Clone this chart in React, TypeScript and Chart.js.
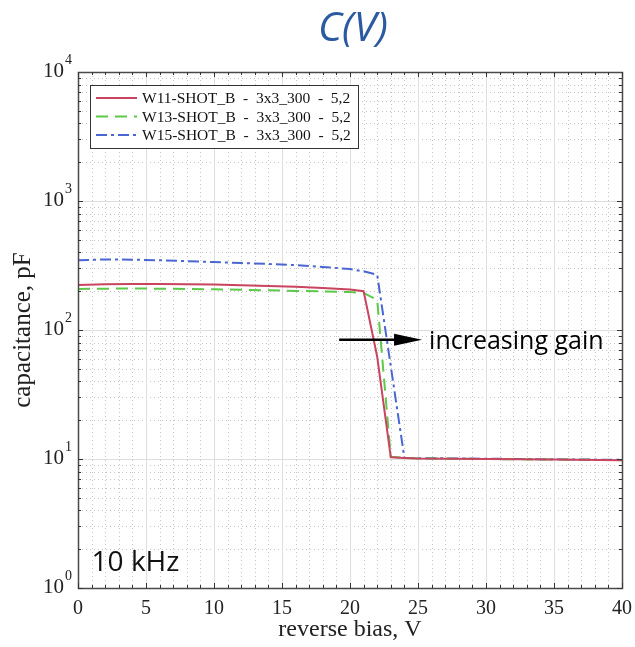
import React, { useEffect, useRef } from 'react';
import { Chart, registerables } from 'chart.js';

Chart.register(...registerables);

// ---------- data ----------
const voltsRed = [0, 2, 4, 6, 8, 10, 12, 14, 16, 18, 20, 21, 22, 23, 24, 25, 30, 35, 40];
const capRed = [223, 226, 227, 227, 226, 225, 222, 219, 216, 212, 206, 200, 62, 10.3, 10.2, 10.1, 10.0, 9.9, 9.8];
const voltsGreen = [0, 2, 4, 6, 8, 10, 12, 14, 16, 18, 20, 21, 22, 23, 24, 25, 30, 35, 40];
const capGreen = [208, 209, 210, 209, 208, 207, 205, 203, 201, 199, 197, 194, 171, 10.4, 10.2, 10.1, 10.0, 9.9, 9.8];
const voltsBlue = [0, 2, 4, 6, 8, 10, 12, 14, 16, 18, 20, 21, 22, 24, 25, 30, 35, 40];
const capBlue = [348, 352, 351, 347, 342, 336, 331, 325, 318, 308, 297, 285, 268, 10.2, 10.15, 10.05, 9.95, 9.85];

const seriesLabels = [
  'W11-SHOT_B  -  3x3_300  -  5,2',
  'W13-SHOT_B  -  3x3_300  -  5,2',
  'W15-SHOT_B  -  3x3_300  -  5,2',
];
const seriesColors = ['#c9445f', '#5cc94a', '#4a66d2'];
const seriesDashes: number[][] = [[], [12, 7], [11, 4, 3, 4]];

const xTickValues = [0, 5, 10, 15, 20, 25, 30, 35, 40];
const yDecades = [1, 10, 100, 1000, 10000];
const yExponents = ['0', '1', '2', '3', '4'];

const titleText = 'C(V)';
const xTitle = 'reverse bias, V';
const yTitle = 'capacitance, pF';
const annotationText = 'increasing gain';
const freqText = '10 kHz';
const arrowFrom = { x: 19.2, y: 84 };
const arrowTo = { x: 25.3, y: 84 };
const freqPos = { x: 1, y: 1.55 };

const SERIF = "'Liberation Serif', 'DejaVu Serif', serif";
const SANS = "'Open Sans', 'Noto Sans', sans-serif";

const toPoints = (xs: number[], ys: number[]) => xs.map((x, i) => ({ x, y: ys[i] }));

const overlayPlugin = {
  id: 'overlay',
  beforeDatasetsDraw(chart: any) {
    const { ctx, chartArea: a, scales } = chart;
    const xs = scales.x;
    const ys = scales.y;
    ctx.save();
    ctx.beginPath();
    ctx.rect(a.left, a.top, a.right - a.left, a.bottom - a.top);
    ctx.clip();
    // minor dotted grid
    ctx.strokeStyle = '#c4c4c4';
    ctx.lineWidth = 1;
    ctx.setLineDash([1, 3]);
    for (let v = 1; v < 40; v++) {
      if (v % 5 === 0) continue;
      const px = Math.round(xs.getPixelForValue(v)) + 0.5;
      ctx.beginPath();
      ctx.moveTo(px, a.top);
      ctx.lineTo(px, a.bottom);
      ctx.stroke();
    }
    for (let d = 0; d < 4; d++) {
      for (let m = 2; m <= 9; m++) {
        const py = Math.round(ys.getPixelForValue(m * Math.pow(10, d))) + 0.5;
        ctx.beginPath();
        ctx.moveTo(a.left, py);
        ctx.lineTo(a.right, py);
        ctx.stroke();
      }
    }
    // major solid grid
    ctx.setLineDash([]);
    ctx.strokeStyle = '#dedede';
    for (const v of xTickValues) {
      const px = Math.round(xs.getPixelForValue(v)) + 0.5;
      ctx.beginPath();
      ctx.moveTo(px, a.top);
      ctx.lineTo(px, a.bottom);
      ctx.stroke();
    }
    for (const d of yDecades) {
      const py = Math.round(ys.getPixelForValue(d)) + 0.5;
      ctx.beginPath();
      ctx.moveTo(a.left, py);
      ctx.lineTo(a.right, py);
      ctx.stroke();
    }
    ctx.restore();
  },
  afterDatasetsDraw(chart: any) {
    const { ctx, chartArea: a, scales } = chart;
    const xs = scales.x;
    const ys = scales.y;
    ctx.save();
    // frame
    ctx.strokeStyle = '#4a4a4a';
    ctx.lineWidth = 1.5;
    ctx.setLineDash([]);
    ctx.strokeRect(Math.round(a.left) + 0.5, Math.round(a.top) + 0.5, Math.round(a.right - a.left), Math.round(a.bottom - a.top));
    // inward ticks
    ctx.lineWidth = 1;
    ctx.strokeStyle = '#333';
    ctx.beginPath();
    for (let v = 0; v <= 40; v++) {
      const px = Math.round(xs.getPixelForValue(v)) + 0.5;
      const len = v % 5 === 0 ? 5 : 3;
      ctx.moveTo(px, a.bottom);
      ctx.lineTo(px, a.bottom - len);
      ctx.moveTo(px, a.top);
      ctx.lineTo(px, a.top + len);
    }
    for (let d = 0; d < 4; d++) {
      for (let m = 1; m <= 9; m++) {
        const py = Math.round(ys.getPixelForValue(m * Math.pow(10, d))) + 0.5;
        const len = m === 1 ? 5 : 3;
        ctx.moveTo(a.left, py);
        ctx.lineTo(a.left + len, py);
        ctx.moveTo(a.right, py);
        ctx.lineTo(a.right - len, py);
      }
    }
    ctx.stroke();

    // y tick labels with superscripts
    ctx.fillStyle = '#222';
    ctx.textBaseline = 'middle';
    yDecades.forEach((d, i) => {
      const py = ys.getPixelForValue(d);
      ctx.font = `14px ${SERIF}`;
      ctx.textAlign = 'right';
      const expW = ctx.measureText(yExponents[i]).width;
      ctx.fillText(yExponents[i], a.left - 6, py - 12);
      ctx.font = `21px ${SERIF}`;
      ctx.fillText('10', a.left - 7 - expW, py - 1);
    });

    // legend box
    const lx = a.left + 12;
    const ly = a.top + 13;
    const lw = 268;
    const lh = 63;
    ctx.fillStyle = '#ffffff';
    ctx.fillRect(lx, ly, lw, lh);
    ctx.strokeStyle = '#333';
    ctx.lineWidth = 1;
    ctx.strokeRect(lx + 0.5, ly + 0.5, lw, lh);
    chart.data.datasets.forEach((ds: any, i: number) => {
      const ry = ly + 13 + i * 18.5;
      ctx.strokeStyle = ds.borderColor;
      ctx.lineWidth = 2;
      ctx.setLineDash(ds.borderDash || []);
      ctx.beginPath();
      ctx.moveTo(lx + 6, ry);
      ctx.lineTo(lx + 47, ry);
      ctx.stroke();
      ctx.setLineDash([]);
      ctx.fillStyle = '#111';
      ctx.font = `15.5px ${SERIF}`;
      ctx.textAlign = 'left';
      ctx.textBaseline = 'middle';
      ctx.fillText(ds.label, lx + 52, ry + 1);
    });

    // annotation arrow
    const ax0 = xs.getPixelForValue(arrowFrom.x);
    const ax1 = xs.getPixelForValue(arrowTo.x);
    const ay = ys.getPixelForValue(arrowFrom.y);
    ctx.strokeStyle = '#000';
    ctx.fillStyle = '#000';
    ctx.lineWidth = 2.5;
    ctx.beginPath();
    ctx.moveTo(ax0, ay);
    ctx.lineTo(ax1 - 16, ay);
    ctx.stroke();
    ctx.beginPath();
    ctx.moveTo(ax1, ay);
    ctx.lineTo(ax1 - 28, ay - 6);
    ctx.lineTo(ax1 - 28, ay + 6);
    ctx.closePath();
    ctx.fill();
    ctx.font = `25px ${SANS}`;
    ctx.textAlign = 'left';
    ctx.textBaseline = 'middle';
    ctx.fillText(annotationText, ax1 + 7, ay + 2);

    // frequency text
    ctx.font = `28px ${SANS}`;
    ctx.fillStyle = '#111';
    ctx.fillText(freqText, xs.getPixelForValue(freqPos.x), ys.getPixelForValue(freqPos.y));

    // title
    ctx.font = `italic 41px ${SANS}`;
    ctx.fillStyle = '#2c5aa0';
    ctx.textAlign = 'center';
    ctx.fillText(titleText, (a.left + a.right) / 2 + 3, 29);
    ctx.restore();
  },
};

export default function App() {
  const canvasRef = useRef<HTMLCanvasElement | null>(null);

  useEffect(() => {
    document.body.style.margin = '0';
    const canvas = canvasRef.current;
    if (!canvas) return;
    const chart = new Chart(canvas, {
      type: 'line',
      data: {
        datasets: [
          { label: seriesLabels[0], data: toPoints(voltsRed, capRed), borderColor: seriesColors[0], borderDash: seriesDashes[0] },
          { label: seriesLabels[1], data: toPoints(voltsGreen, capGreen), borderColor: seriesColors[1], borderDash: seriesDashes[1] },
          { label: seriesLabels[2], data: toPoints(voltsBlue, capBlue), borderColor: seriesColors[2], borderDash: seriesDashes[2] },
        ].map((d) => ({ ...d, fill: false, pointRadius: 0, borderWidth: 2, tension: 0 })),
      },
      options: {
        responsive: false,
        animation: false,
        devicePixelRatio: 1,
        layout: { padding: { top: 72, right: 13, bottom: 0, left: 0 } },
        plugins: { legend: { display: false }, tooltip: { enabled: false }, title: { display: false } },
        scales: {
          x: {
            type: 'linear',
            min: 0,
            max: 40,
            afterBuildTicks: (s: any) => {
              s.ticks = xTickValues.map((v) => ({ value: v }));
            },
            afterFit: (s: any) => {
              s.height = 59;
              s.paddingLeft = 0;
              s.paddingRight = 0;
            },
            ticks: { font: { family: SERIF, size: 20 }, color: '#222', padding: 9, maxRotation: 0 },
            grid: { display: false, drawTicks: false },
            border: { display: false },
            title: { display: true, text: xTitle, font: { family: SERIF, size: 24 }, color: '#222', padding: { top: 0, bottom: 3 } },
          },
          y: {
            type: 'logarithmic',
            min: 1,
            max: 10000,
            afterFit: (s: any) => {
              s.width = 78;
            },
            ticks: { display: false },
            grid: { display: false, drawTicks: false },
            border: { display: false },
            title: { display: true, text: yTitle, font: { family: SERIF, size: 25 }, color: '#222', padding: { top: 8, bottom: 0 } },
          },
        },
      },
      plugins: [overlayPlugin],
    } as any);
    return () => chart.destroy();
  }, []);

  return <canvas ref={canvasRef} width={635} height={647} style={{ display: 'block' }} />;
}
